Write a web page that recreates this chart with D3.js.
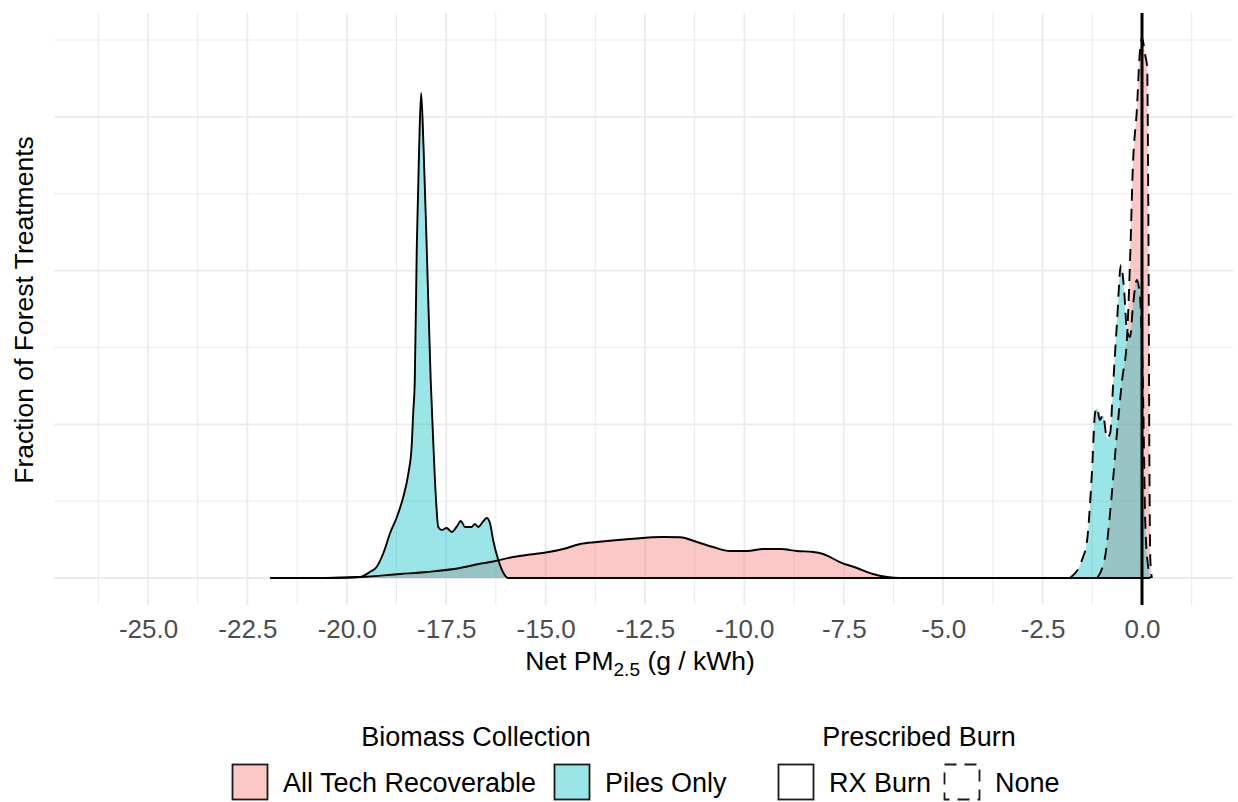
<!DOCTYPE html>
<html>
<head>
<meta charset="utf-8">
<script src="https://cdn.jsdelivr.net/npm/d3@7"></script>
<style>
  html, body { margin: 0; padding: 0; background: #fff; }
  svg { display: block; font-family: "Liberation Sans", Arial, Helvetica, sans-serif; }
</style>
</head>
<body>
<svg id="chart" width="1238" height="802"></svg>
<script>
// ---------------- data ----------------
const biomassCategories = ["All Tech Recoverable", "Piles Only"];
const burnCategories = ["RX Burn", "None"];
const xTickValues = [-25, -22.5, -20, -17.5, -15, -12.5, -10, -7.5, -5, -2.5, 0];
const xMinorValues = [-26.25, -23.75, -21.25, -18.75, -16.25, -13.75, -11.25, -8.75, -6.25, -3.75, -1.25, 1.25];
const yGridValues = [0, 0.1, 0.2, 0.3, 0.4, 0.5, 0.6, 0.7];

// density curves: [Net PM2.5, density]
const allTechRxBurn = [
  [-20.55, 0], [-19.67, 0.0013], [-18.66, 0.0052], [-17.98, 0.0078], [-17.15, 0.0130],
  [-16.65, 0.0185], [-16.32, 0.0215], [-15.82, 0.0273], [-15.39, 0.0305], [-14.96, 0.0335],
  [-14.56, 0.0377], [-14.13, 0.0442], [-13.71, 0.0468], [-12.88, 0.0507], [-12.05, 0.0533],
  [-11.62, 0.0530], [-11.19, 0.0468], [-10.79, 0.0403], [-10.36, 0.0351], [-9.93, 0.0351],
  [-9.53, 0.0377], [-9.10, 0.0377], [-8.68, 0.0351], [-8.27, 0.0338], [-8.02, 0.0312],
  [-7.60, 0.0208], [-7.17, 0.0130], [-6.77, 0.0052], [-6.41, 0.0013], [-6.09, 0],
  [-3.0, 0], [0.2, 0]
];
const allTechNone = [
  [-1.13, 0], [-0.93, 0.0273], [-0.75, 0.1145], [-0.63, 0.1887], [-0.50, 0.2576],
  [-0.38, 0.3097], [-0.30, 0.4137], [-0.23, 0.5347], [-0.13, 0.6089], [-0.05, 0.6870],
  [0.0, 0.7026], [0.08, 0.6805], [0.13, 0.6648], [0.15, 0.5570], [0.17, 0.3620],
  [0.185, 0.1665], [0.21, 0.0234], [0.25, 0]
];
const pilesRxBurn = [
  [-21.93, 0], [-20.42, 0], [-19.67, 0.0013], [-19.42, 0.0078], [-19.25, 0.0143],
  [-19.08, 0.0325], [-18.91, 0.0585], [-18.74, 0.0794], [-18.58, 0.1054], [-18.45, 0.1366],
  [-18.37, 0.1704], [-18.33, 0.2147], [-18.29, 0.2576], [-18.24, 0.4306], [-18.18, 0.5608],
  [-18.13, 0.6310], [-18.07, 0.5608], [-17.99, 0.4306], [-17.89, 0.2576], [-17.82, 0.1704],
  [-17.76, 0.1054], [-17.70, 0.0664], [-17.61, 0.0625], [-17.49, 0.0651], [-17.36, 0.0599],
  [-17.24, 0.0664], [-17.13, 0.0742], [-17.03, 0.0664], [-16.86, 0.0664], [-16.78, 0.0703],
  [-16.69, 0.0664], [-16.58, 0.0729], [-16.48, 0.0781], [-16.40, 0.0716], [-16.32, 0.0494],
  [-16.19, 0.0234], [-16.06, 0.0065], [-15.94, 0], [-10.0, 0], [0.2, 0]
];
const pilesNone = [
  [-1.81, 0], [-1.51, 0.0234], [-1.38, 0.0494], [-1.26, 0.1366], [-1.18, 0.2147],
  [-1.13, 0.2212], [-1.06, 0.2056], [-0.98, 0.2121], [-0.88, 0.1821], [-0.80, 0.1887],
  [-0.73, 0.2485], [-0.63, 0.3318], [-0.53, 0.4072], [-0.45, 0.3747], [-0.38, 0.3227],
  [-0.30, 0.3136], [-0.23, 0.3526], [-0.13, 0.3877], [-0.05, 0.3656], [0.03, 0.2316],
  [0.08, 0.0755], [0.15, 0.0169], [0.23, 0]
];

const series = [
  { biomass: "All Tech Recoverable", burn: "RX Burn", values: allTechRxBurn },
  { biomass: "All Tech Recoverable", burn: "None", values: allTechNone },
  { biomass: "Piles Only", burn: "RX Burn", values: pilesRxBurn },
  { biomass: "Piles Only", burn: "None", values: pilesNone }
];

// ---------------- styles ----------------
const fillColor = d3.scaleOrdinal().domain(biomassCategories).range(["#F8766D", "#00BFC4"]);
const dashFor = d3.scaleOrdinal().domain(burnCategories).range(["none", "12,8"]);
const fillOpacity = 0.4;
const FONT = 26;
const LFONT = 27;

const svg = d3.select("#chart");

// panel
const panel = { left: 54, right: 1233, top: 13, bottom: 605 };
const x = d3.scaleLinear().domain([-25, 0]).range([148, 1142]);
const y = d3.scaleLinear().domain([0, 0.7]).range([578, 40]);

// grid
const grid = svg.append("g");
grid.selectAll(".vminor").data(xMinorValues).join("line")
  .attr("x1", d => x(d)).attr("x2", d => x(d))
  .attr("y1", panel.top).attr("y2", panel.bottom)
  .attr("stroke", "#ebebeb").attr("stroke-width", 1);
grid.selectAll(".vmajor").data(xTickValues).join("line")
  .attr("x1", d => x(d)).attr("x2", d => x(d))
  .attr("y1", panel.top).attr("y2", panel.bottom)
  .attr("stroke", "#ebebeb").attr("stroke-width", 1.8);
grid.selectAll(".h").data(yGridValues).join("line")
  .attr("x1", panel.left).attr("x2", panel.right)
  .attr("y1", d => y(d)).attr("y2", d => y(d))
  .attr("stroke", "#ebebeb").attr("stroke-width", (d, i) => i % 2 === 0 ? 1.8 : 1);

// densities
const area = d3.area().x(d => x(d[0])).y0(y(0)).y1(d => y(d[1])).curve(d3.curveMonotoneX);
const line = d3.line().x(d => x(d[0])).y(d => y(d[1])).curve(d3.curveMonotoneX);

const gD = svg.append("g");
series.forEach(s => {
  gD.append("path").attr("d", area(s.values))
    .attr("fill", fillColor(s.biomass)).attr("fill-opacity", fillOpacity).attr("stroke", "none");
});
series.forEach(s => {
  gD.append("path").attr("d", line(s.values))
    .attr("fill", "none").attr("stroke", "#000").attr("stroke-width", 1.9)
    .attr("stroke-dasharray", dashFor(s.burn) === "none" ? null : dashFor(s.burn));
});

// zero line
svg.append("line")
  .attr("x1", x(0)).attr("x2", x(0)).attr("y1", panel.top).attr("y2", panel.bottom)
  .attr("stroke", "#000").attr("stroke-width", 3);

// x axis
const xAxis = d3.axisBottom(x).tickValues(xTickValues).tickFormat(d => d.toFixed(1)).tickSize(0);
const gx = svg.append("g").attr("transform", `translate(0,${panel.bottom})`).call(xAxis);
gx.select(".domain").remove();
gx.selectAll("text").attr("y", 33).attr("dy", null)
  .attr("fill", "#4d4d4d").style("font-size", FONT + "px").style("font-family", "Liberation Sans, Arial, sans-serif");

// axis titles
const xt = svg.append("text").attr("x", 640).attr("y", 670).attr("text-anchor", "middle")
  .style("font-size", "26.5px").attr("fill", "#000");
xt.append("tspan").text("Net PM");
xt.append("tspan").text("2.5").style("font-size", (26.5 * 0.72) + "px").attr("dy", 6);
xt.append("tspan").text(" (g / kWh)").attr("dy", -6);

svg.append("text").attr("transform", "translate(33,310) rotate(-90)")
  .attr("text-anchor", "middle").style("font-size", "26.5px").attr("fill", "#000")
  .text("Fraction of Forest Treatments");

// legends
const legend = svg.append("g");
const KEY = 36, keyY = 764, labelY = 792, titleY = 746;

legend.append("text").attr("x", 476).attr("y", titleY).attr("text-anchor", "middle")
  .style("font-size", LFONT + "px").text("Biomass Collection");
const bioKeyX = [232, 554];
biomassCategories.forEach((c, i) => {
  legend.append("rect").attr("x", bioKeyX[i] + 0.5).attr("y", keyY + 0.5).attr("width", KEY - 1).attr("height", KEY - 1)
    .attr("fill", fillColor(c)).attr("fill-opacity", fillOpacity)
    .attr("stroke", "#1a1a1a").attr("stroke-width", 1.8);
  legend.append("text").attr("x", bioKeyX[i] + KEY + 15).attr("y", labelY)
    .style("font-size", LFONT + "px").text(c);
});

legend.append("text").attr("x", 919).attr("y", titleY).attr("text-anchor", "middle")
  .style("font-size", LFONT + "px").text("Prescribed Burn");
const burnKeyX = [778, 944];
burnCategories.forEach((c, i) => {
  const d = dashFor(c);
  legend.append("rect").attr("x", burnKeyX[i] + 0.5).attr("y", keyY + 0.5).attr("width", KEY - 1).attr("height", KEY - 1)
    .attr("fill", "#fff").attr("stroke", "#1a1a1a").attr("stroke-width", 1.8)
    .attr("stroke-dasharray", d === "none" ? null : d);
  legend.append("text").attr("x", burnKeyX[i] + KEY + 15).attr("y", labelY)
    .style("font-size", LFONT + "px").text(c);
});
</script>
</body>
</html>
